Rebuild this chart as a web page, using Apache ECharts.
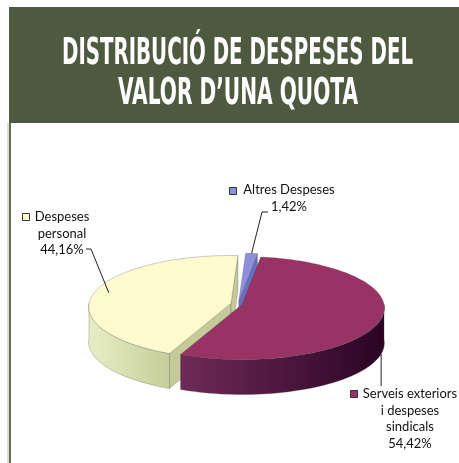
<!DOCTYPE html>
<html>
<head>
<meta charset="utf-8">
<script src="https://cdn.jsdelivr.net/npm/echarts@6/dist/echarts.min.js"></script>
<style>
  html, body { margin: 0; padding: 0; background: #fff; }
  #chart { width: 459px; height: 463px; }
</style>
</head>
<body>
<div id="chart"></div>
<script>
// dades del gràfic
const categories = ['Altres Despeses', 'Serveis exteriors i despeses sindicals', 'Despeses personal'];
const values = [1.42, 54.42, 44.16];
const percentLabels = ['1,42%', '54,42%', '44,16%'];
const labelLines = [['Altres Despeses'], ['Serveis exteriors', 'i despeses', 'sindicals'], ['Despeses', 'personal']];
const titleLines = ['DISTRIBUCIÓ DE DESPESES DEL', 'VALOR D\u2019UNA QUOTA'];

// estil
const topColors = ['#8d91dc', '#993366', '#fffbcf'];
const wallColors = [['#7478c8', '#5a5eb0'], ['#6f2a58', '#2b0424'], ['#e8eec4', '#c6ce9a']];
const faceColors = ['#6a6ec0', '#5a1a44', '#c4cb98'];
const explode = [8, 4.2, 7.2];
const EDGE = 'rgba(70,70,70,0.45)';
const CX = 238, CY = 304, RX = 142, RY = 51.5, H = 35, PERSP = 0.07;
const START = 3 * Math.PI / 180;
const LABEL_FONT = '13px Lato, "Liberation Sans", sans-serif';
const TITLE_FONT = 'bold 37px "Liberation Sans Narrow", "DejaVu Sans Condensed", sans-serif';

// posicio de les etiquetes (quadre de llegenda, text, guia)
const labelLayout = [
  { sq: [229, 187], tx: 289, ty: 182, guide: [[268, 212], [262, 212]], anchorZ: 0 },
  { sq: [350, 390], tx: 410, ty: 386, guide: [[0, 386]], anchorZ: H, vertical: true },
  { sq: [22, 213], tx: 62, ty: 209, guide: [[86, 249], [91, 249]], anchorZ: 0, anchorR: 0.9 }
];

function measure(text, font) {
  const ctx = document.createElement('canvas').getContext('2d');
  ctx.font = font;
  return ctx.measureText(text).width;
}

function renderItem(params, api) {
  const i = params.dataIndex;
  const total = values.reduce((a, b) => a + b, 0);
  let before = 0;
  for (let k = 0; k < i; k++) before += values[k];
  const a0 = START + before / total * 2 * Math.PI;
  const a1 = START + (before + api.value(1)) / total * 2 * Math.PI;
  const mid = (a0 + a1) / 2;
  const ox = CX + explode[i] * Math.sin(mid);
  const oy = CY - explode[i] * Math.cos(mid) * RY / RX;
  const pt = (th, r, z) => {
    const s = 1 - PERSP * Math.cos(th);
    return [ox + r * RX * Math.sin(th) * s, oy - r * RY * Math.cos(th) * s + z];
  };
  const arc = (s, e, z) => {
    const n = Math.max(2, Math.ceil((e - s) / (Math.PI / 90)));
    const pts = [];
    for (let k = 0; k <= n; k++) pts.push(pt(s + (e - s) * k / n, 1, z));
    return pts;
  };
  const children = [];

  // cares de tall visibles
  [[a0, a0 - Math.PI / 2], [a1, a1 + Math.PI / 2]].forEach(([a, n]) => {
    if (Math.cos(n) < 0.02) {
      children.push({
        type: 'polygon', z2: 1,
        shape: { points: [pt(a, 0, 0), pt(a, 1, 0), pt(a, 1, H), pt(a, 0, H)] },
        style: { fill: faceColors[i], stroke: EDGE, lineWidth: 0.6 }
      });
    }
  });

  // paret exterior (meitat davantera)
  const s = Math.max(a0, Math.PI / 2), e = Math.min(a1, 3 * Math.PI / 2);
  if (e > s) {
    children.push({
      type: 'polygon', z2: 2,
      shape: { points: arc(s, e, 0).concat(arc(s, e, H).reverse()) },
      style: {
        fill: {
          type: 'linear', x: 0, y: 0, x2: 1, y2: 0,
          colorStops: [{ offset: 0, color: wallColors[i][0] }, { offset: 1, color: wallColors[i][1] }]
        },
        stroke: EDGE, lineWidth: 0.6
      }
    });
  }

  // cara superior
  children.push({
    type: 'polygon', z2: 3,
    shape: { points: [pt(0, 0, 0)].concat(arc(a0, a1, 0)) },
    style: { fill: topColors[i], stroke: EDGE, lineWidth: 0.6 }
  });

  // etiqueta
  const lay = labelLayout[i];
  const anchor = pt(mid, lay.anchorR || 1, lay.anchorZ);
  let guide;
  if (lay.vertical) guide = [anchor, [anchor[0], lay.guide[0][1]]];
  else guide = lay.guide.concat([anchor]);
  children.push({
    type: 'polyline', z2: 4,
    shape: { points: guide },
    style: { stroke: '#222', lineWidth: 1, fill: null }
  });
  children.push({
    type: 'rect', z2: 5,
    shape: { x: lay.sq[0] + 0.5, y: lay.sq[1] + 0.5, width: 7, height: 7 },
    style: { fill: topColors[i], stroke: '#333', lineWidth: 1 }
  });
  children.push({
    type: 'text', z2: 5,
    x: lay.tx, y: lay.ty,
    style: {
      text: labelLines[i].concat([percentLabels[i]]).join('\n'),
      font: LABEL_FONT, fill: '#111',
      align: 'center', verticalAlign: 'top', lineHeight: 16.5
    }
  });
  return { type: 'group', children };
}

const titleTargets = [351, 240];
const chart = echarts.init(document.getElementById('chart'));
chart.setOption({
  animation: false,
  backgroundColor: '#fff',
  graphic: [
    { type: 'rect', shape: { x: 7, y: 123, width: 2, height: 340 }, style: { fill: '#dcdcdc' } },
    { type: 'rect', shape: { x: 9, y: 123, width: 2, height: 340 }, style: { fill: '#66704f' } },
    { type: 'rect', shape: { x: 9, y: 7, width: 450, height: 116 }, style: { fill: '#4e5a40' } },
    {
      type: 'text', x: 237.5, y: 54, scaleX: titleTargets[0] / measure(titleLines[0], TITLE_FONT),
      style: { text: titleLines[0], font: TITLE_FONT, fill: '#fff', align: 'center', verticalAlign: 'middle' }
    },
    {
      type: 'text', x: 238, y: 94, scaleX: titleTargets[1] / measure(titleLines[1], TITLE_FONT),
      style: { text: titleLines[1], font: TITLE_FONT, fill: '#fff', align: 'center', verticalAlign: 'middle' }
    }
  ],
  series: [{
    type: 'custom',
    name: 'Distribució',
    coordinateSystem: 'none',
    data: values.map((v, i) => ({ name: categories[i], value: [i, v] })),
    renderItem: renderItem
  }]
});
</script>
</body>
</html>
